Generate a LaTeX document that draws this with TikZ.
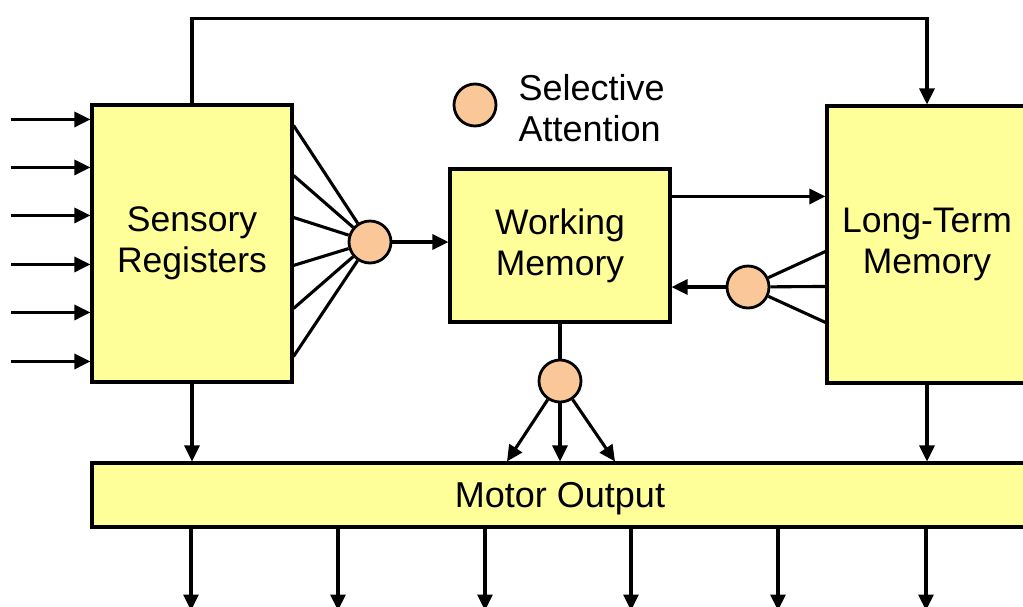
\documentclass[tikz,border=0pt]{standalone}
\usepackage{fontspec}
\setmainfont{Liberation Sans}
\usetikzlibrary{arrows.meta}

\definecolor{boxyellow}{RGB}{255,255,153}
\definecolor{gateorange}{RGB}{250,200,152}

\begin{document}
\begin{tikzpicture}[x=1pt,y=-1pt,line width=3.1pt,
    arr/.style={-{Triangle[length=16pt,width=15pt]}},
    block/.style={draw,fill=boxyellow,inner sep=0pt,align=center,font=\fontsize{35.5}{41}\selectfont},
    gate/.style={circle,draw,fill=gateorange,minimum size=42pt,inner sep=0pt,line width=2.8pt}]
      \useasboundingbox (0,0) rectangle (1023,606);
      \clip (0,0) rectangle (1023,606);
      % boxes
      \node[block,minimum width=200pt,minimum height=277pt] (sr) at (192,243.5) {Sensory\\Registers};
      \node[block,minimum width=220pt,minimum height=153pt] (wm) at (560,245.5) {Working\\Memory};
      \node[block,minimum width=200pt,minimum height=277pt] (ltm) at (927,244.5) {Long-Term\\Memory};
      \node[block,minimum width=936pt,minimum height=64pt,text depth=0pt,font=\fontsize{36}{41}\selectfont] (mot) at (560,495) {Motor Output};
      % attention gates
      \node[gate] (sa) at (370,242) {};
      \node[gate] (lt) at (748,287) {};
      \node[gate] (mo) at (560,381) {};
      \node[gate] (leg) at (475,105) {};
      \node[anchor=west,inner sep=0pt,align=left,font=\fontsize{36}{41}\selectfont] (legtext) at (517,108) {Selective\\Attention};
      % inputs and fan into the first gate
      \foreach \dy in {16,64,112,161,209,258}
        \draw[arr] ([xshift=-79pt,yshift=-\dy pt]sr.north west) -- ([yshift=-\dy pt]sr.north west);
      \foreach \dy in {22,72,114,162,205,253}
        \draw ([yshift=-\dy pt]sr.north east) -- (sa);
      \draw[arr] (sa) -- (sa -| wm.west);
      % working memory <-> long-term memory
      \coordinate (wmout) at ([yshift=-29pt]wm.north east);
      \draw[arr] (wmout) -- (wmout -| ltm.west);
      \foreach \dy in {147,182,218}
        \draw ([yshift=-\dy pt]ltm.north west) -- (lt);
      \draw[arr] (lt) -- (lt -| wm.east);
      % down to motor output
      \draw (wm.south) -- (mo);
      \foreach \dx in {-53,0,55}
        \draw[arr] (mo) -- ([xshift=\dx pt]mot.north);
      \draw[arr] (sr.south) -- (sr.south |- mot.north);
      \draw[arr] (ltm.south) -- (ltm.south |- mot.north);
      \draw[arr] (sr.north) |- ([yshift=86pt]ltm.north) -- (ltm.north);
      \foreach \x in {191,338,485,631,778,926}
        \draw[arr] (mot.south -| \x,0) -- ++(0,82);
    \end{tikzpicture}
\end{document}
